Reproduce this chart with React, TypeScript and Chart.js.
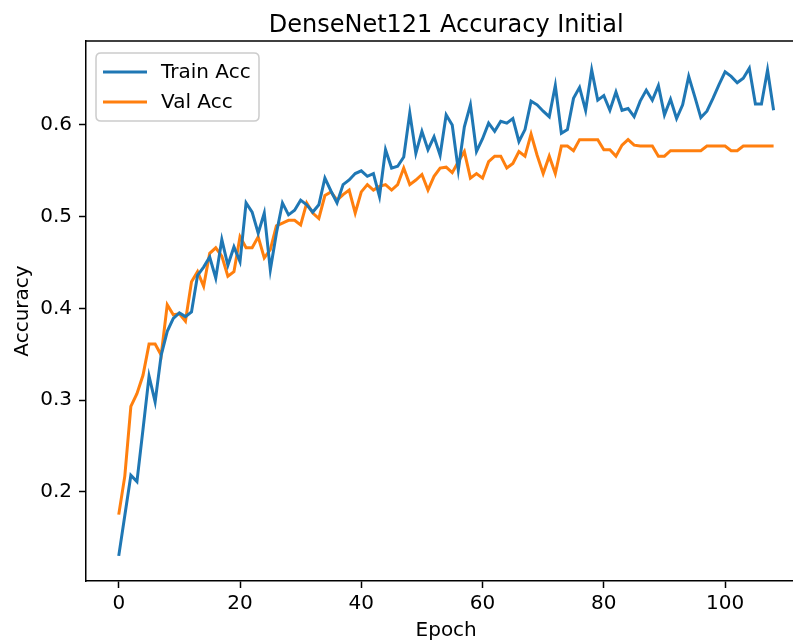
import React, { useEffect, useRef } from "react";
import { Chart, registerables } from "chart.js";

Chart.register(...registerables);

const trainAcc = [
  0.130, 0.174, 0.218, 0.211, 0.268, 0.326, 0.298, 0.349, 0.375, 0.389,
  0.395, 0.391, 0.396, 0.436, 0.445, 0.456, 0.433, 0.475, 0.447, 0.467,
  0.451, 0.515, 0.505, 0.482, 0.504, 0.442, 0.482, 0.515, 0.502, 0.507,
  0.518, 0.513, 0.505, 0.513, 0.542, 0.528, 0.515, 0.535, 0.540, 0.547,
  0.550, 0.544, 0.547, 0.522, 0.573, 0.553, 0.555, 0.565, 0.613, 0.569,
  0.593, 0.573, 0.587, 0.567, 0.611, 0.600, 0.551, 0.598, 0.622, 0.571,
  0.585, 0.602, 0.593, 0.604, 0.602, 0.607, 0.582, 0.595, 0.626, 0.622,
  0.615, 0.609, 0.643, 0.591, 0.595, 0.629, 0.641, 0.616, 0.660, 0.627,
  0.632, 0.616, 0.636, 0.616, 0.618, 0.609, 0.626, 0.638, 0.627, 0.643,
  0.611, 0.628, 0.607, 0.622, 0.653, 0.631, 0.608, 0.615, 0.629, 0.644,
  0.658, 0.653, 0.646, 0.651, 0.662, 0.623, 0.623, 0.660, 0.616,
];

const valAcc = [
  0.175, 0.217, 0.293, 0.307, 0.327, 0.361, 0.361, 0.349, 0.404, 0.393,
  0.394, 0.386, 0.429, 0.440, 0.424, 0.460, 0.466, 0.457, 0.435, 0.440,
  0.478, 0.466, 0.466, 0.478, 0.455, 0.464, 0.490, 0.493, 0.496, 0.496,
  0.491, 0.515, 0.504, 0.498, 0.523, 0.527, 0.518, 0.524, 0.529, 0.504,
  0.527, 0.535, 0.529, 0.533, 0.535, 0.529, 0.535, 0.553, 0.535, 0.540,
  0.546, 0.529, 0.544, 0.553, 0.554, 0.548, 0.560, 0.571, 0.542, 0.547,
  0.542, 0.560, 0.566, 0.566, 0.553, 0.558, 0.571, 0.566, 0.590, 0.567,
  0.547, 0.566, 0.547, 0.577, 0.577, 0.572, 0.584, 0.584, 0.584, 0.584,
  0.573, 0.573, 0.566, 0.578, 0.584, 0.578, 0.577, 0.577, 0.577, 0.566,
  0.566, 0.572, 0.572, 0.572, 0.572, 0.572, 0.572, 0.577, 0.577, 0.577,
  0.577, 0.572, 0.572, 0.577, 0.577, 0.577, 0.577, 0.577, 0.577,
];

const epochs = trainAcc.map((_, i) => i);
const xTicks = [0, 20, 40, 60, 80, 100];
const yTicks = [0.2, 0.3, 0.4, 0.5, 0.6];
const seriesNames = ["Train Acc", "Val Acc"];
const seriesColors = ["#1f77b4", "#ff7f0e"];
const titleText = "DenseNet121 Accuracy Initial";
const xLabel = "Epoch";
const yLabel = "Accuracy";

const FONT = '"DejaVu Sans", sans-serif';
const W = 793;
const H = 643;
const AXIS_LEFT = 86;
const AXIS_TOP = 41;
const AXIS_BOTTOM = 581;

export default function App() {
  const ref = useRef<HTMLCanvasElement>(null);

  useEffect(() => {
    const canvas = ref.current;
    if (!canvas) return;

    const overlay = {
      id: "overlay",
      afterDraw(chart: any) {
        const ctx = chart.ctx as CanvasRenderingContext2D;
        const area = chart.chartArea;
        const xs = chart.scales.x;
        ctx.save();
        // top spine
        ctx.strokeStyle = "#000";
        ctx.lineWidth = 1.5;
        ctx.beginPath();
        ctx.moveTo(area.left, area.top);
        ctx.lineTo(W, area.top);
        ctx.stroke();

        const centerX = (xs.getPixelForValue(-5.4) + xs.getPixelForValue(113.4)) / 2;

        // title
        ctx.fillStyle = "#000";
        ctx.font = `24px ${FONT}`;
        ctx.textAlign = "center";
        ctx.textBaseline = "alphabetic";
        ctx.fillText(titleText, centerX, 32);

        // x label
        ctx.font = `20px ${FONT}`;
        ctx.fillText(xLabel, centerX, 636);

        // y label
        ctx.save();
        ctx.translate(28, (area.top + area.bottom) / 2);
        ctx.rotate(-Math.PI / 2);
        ctx.fillText(yLabel, 0, 0);
        ctx.restore();

        // legend
        const lx = 96, ly = 53, lw = 163, lh = 68, r = 5;
        ctx.beginPath();
        ctx.moveTo(lx + r, ly);
        ctx.lineTo(lx + lw - r, ly);
        ctx.quadraticCurveTo(lx + lw, ly, lx + lw, ly + r);
        ctx.lineTo(lx + lw, ly + lh - r);
        ctx.quadraticCurveTo(lx + lw, ly + lh, lx + lw - r, ly + lh);
        ctx.lineTo(lx + r, ly + lh);
        ctx.quadraticCurveTo(lx, ly + lh, lx, ly + lh - r);
        ctx.lineTo(lx, ly + r);
        ctx.quadraticCurveTo(lx, ly, lx + r, ly);
        ctx.closePath();
        ctx.fillStyle = "rgba(255,255,255,0.8)";
        ctx.fill();
        ctx.strokeStyle = "#cccccc";
        ctx.lineWidth = 1.5;
        ctx.stroke();

        const rows = [72, 102];
        seriesNames.forEach((name, i) => {
          ctx.strokeStyle = seriesColors[i];
          ctx.lineWidth = 3;
          ctx.beginPath();
          ctx.moveTo(103, rows[i]);
          ctx.lineTo(147, rows[i]);
          ctx.stroke();
          ctx.fillStyle = "#000";
          ctx.font = `20px ${FONT}`;
          ctx.textAlign = "left";
          ctx.textBaseline = "middle";
          ctx.fillText(name, 161, rows[i] + 1);
        });
        ctx.restore();
      },
    };

    const tickFont = { family: FONT, size: 20 };

    const chart = new Chart(canvas, {
      type: "line",
      data: {
        datasets: [
          {
            label: seriesNames[0],
            data: epochs.map((e, i) => ({ x: e, y: trainAcc[i] })),
            borderColor: seriesColors[0],
            backgroundColor: seriesColors[0],
            borderWidth: 3,
            pointRadius: 0,
            tension: 0,
            fill: false,
          },
          {
            label: seriesNames[1],
            data: epochs.map((e, i) => ({ x: e, y: valAcc[i] })),
            borderColor: seriesColors[1],
            backgroundColor: seriesColors[1],
            borderWidth: 3,
            pointRadius: 0,
            tension: 0,
            fill: false,
          },
        ],
      },
      options: {
        animation: false,
        responsive: false,
        devicePixelRatio: 1,
        layout: { padding: { top: AXIS_TOP, left: 0, right: 0, bottom: 0 } },
        plugins: {
          legend: { display: false },
          title: { display: false },
          tooltip: { enabled: false },
        },
        scales: {
          x: {
            type: "linear",
            min: -5.4,
            max: 111.2,
            afterFit: (s: any) => {
              s.height = H - AXIS_BOTTOM;
            },
            afterBuildTicks: (s: any) => {
              s.ticks = xTicks.map((v) => ({ value: v }));
            },
            ticks: {
              font: tickFont,
              color: "#000",
              padding: 4,
              maxRotation: 0,
              autoSkip: false,
              callback: (v: any) => String(v),
            },
            grid: {
              drawOnChartArea: false,
              drawTicks: true,
              tickLength: 7,
              tickWidth: 1.5,
              tickColor: "#000",
            },
            border: { display: true, color: "#000", width: 1.5 },
          },
          y: {
            type: "linear",
            min: 0.1026,
            max: 0.6916,
            afterFit: (s: any) => {
              s.width = AXIS_LEFT;
            },
            afterBuildTicks: (s: any) => {
              s.ticks = yTicks.map((v) => ({ value: v }));
            },
            ticks: {
              font: tickFont,
              color: "#000",
              padding: 7,
              autoSkip: false,
              callback: (v: any) => Number(v).toFixed(1),
            },
            grid: {
              drawOnChartArea: false,
              drawTicks: true,
              tickLength: 7,
              tickWidth: 1.5,
              tickColor: "#000",
            },
            border: { display: true, color: "#000", width: 1.5 },
          },
        },
      },
      plugins: [overlay],
    } as any);

    return () => chart.destroy();
  }, []);

  return (
    <div style={{ position: "fixed", left: 0, top: 0, width: W, height: H, background: "#fff" }}>
      <canvas ref={ref} width={W} height={H} style={{ display: "block", width: W, height: H }} />
    </div>
  );
}
